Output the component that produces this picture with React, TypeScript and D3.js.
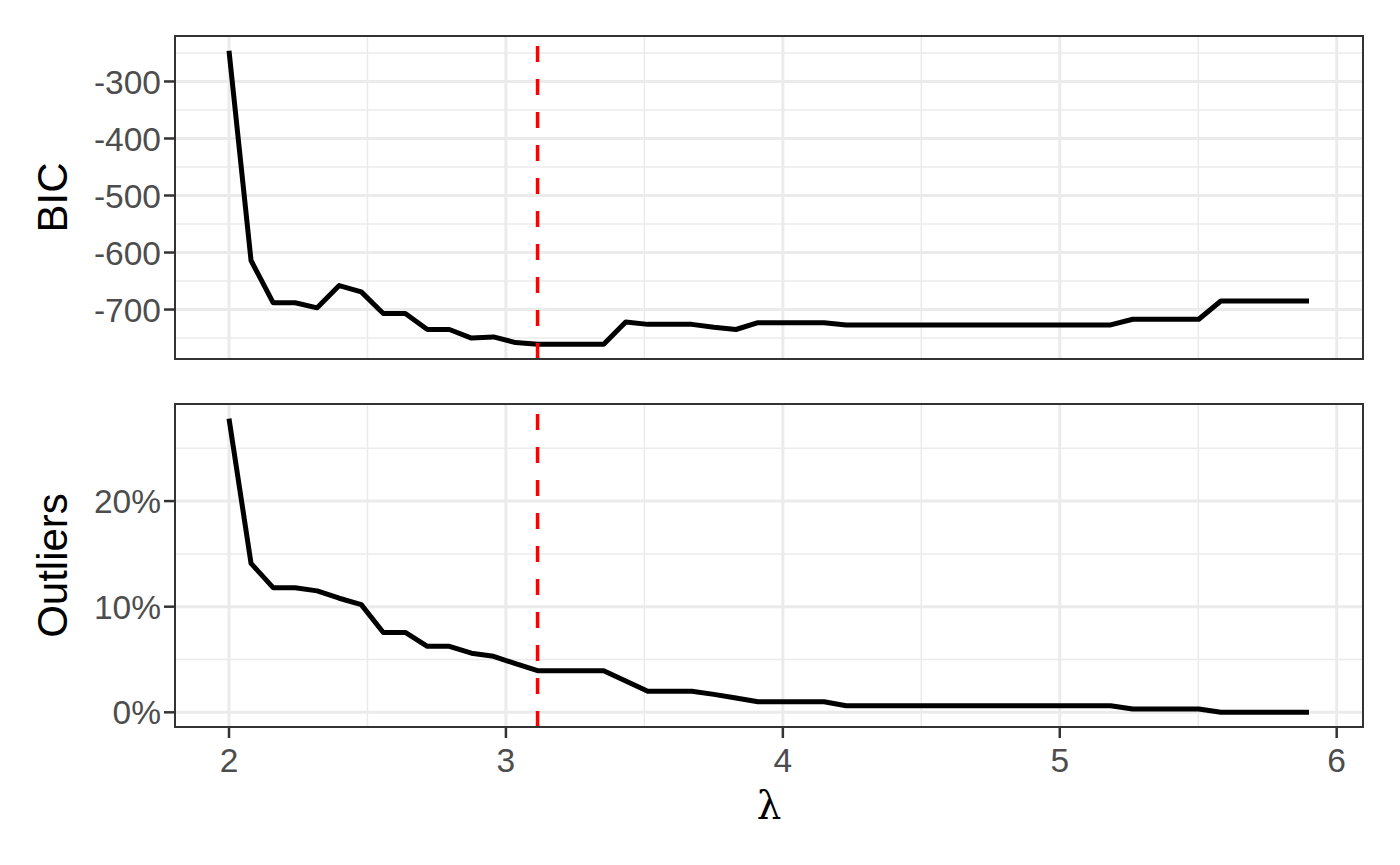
import React from "react";
import * as d3 from "d3";

const lambda = [2.0, 2.0796, 2.1592, 2.2388, 2.3184, 2.398, 2.4776, 2.5571, 2.6367, 2.7163, 2.7959, 2.8755, 2.9551, 3.0347, 3.1143, 3.1939, 3.2735, 3.3531, 3.4327, 3.5122, 3.5918, 3.6714, 3.751, 3.8306, 3.9102, 3.9898, 4.0694, 4.149, 4.2286, 4.3082, 4.3878, 4.4673, 4.5469, 4.6265, 4.7061, 4.7857, 4.8653, 4.9449, 5.0245, 5.1041, 5.1837, 5.2633, 5.3429, 5.4224, 5.502, 5.5816, 5.6612, 5.7408, 5.8204, 5.9];

const bic = [-246, -614, -688, -688, -697, -658, -669, -707, -707, -735, -735, -750, -748, -758, -761, -761, -761, -761, -722, -726, -726, -726, -731, -735, -723, -723, -723, -723, -727, -727, -727, -727, -727, -727, -727, -727, -727, -727, -727, -727, -727, -717, -717, -717, -717, -685, -685, -685, -685, -685];

const outliers = [27.8, 14.1, 11.8, 11.8, 11.5, 10.8, 10.2, 7.56, 7.56, 6.25, 6.25, 5.6, 5.3, 4.6, 3.94, 3.94, 3.94, 3.94, 2.97, 2.0, 2.0, 2.0, 1.7, 1.35, 1.0, 1.0, 1.0, 1.0, 0.63, 0.63, 0.63, 0.63, 0.63, 0.63, 0.63, 0.63, 0.63, 0.63, 0.63, 0.63, 0.63, 0.31, 0.31, 0.31, 0.31, 0, 0, 0, 0, 0];

const selectedLambda = 3.1143;
const xTicks = [2, 3, 4, 5, 6];
const xMinor = [2.5, 3.5, 4.5, 5.5];
const bicTicks = [-300, -400, -500, -600, -700];
const bicMinor = [-250, -350, -450, -550, -650, -750];
const outTicks = [0, 10, 20];
const outMinor = [5, 15, 25];

const FONT = "'Liberation Sans', Arial, Helvetica, sans-serif";

function expand(ext: [number, number]): [number, number] {
  const r = ext[1] - ext[0];
  return [ext[0] - 0.05 * r, ext[1] + 0.05 * r];
}

const L = 175, R = 1363;

const x = d3.scaleLinear().domain(expand([lambda[0], lambda[lambda.length - 1]])).range([L, R]);

type PanelProps = {
  top: number;
  bottom: number;
  values: number[];
  ticks: number[];
  minor: number[];
  fmt: (v: number) => string;
  title: string;
  showX: boolean;
};

function Panel({ top, bottom, values, ticks, minor, fmt, title, showX }: PanelProps) {
  const y = d3.scaleLinear().domain(expand(d3.extent(values) as [number, number])).range([bottom, top]);
  const line = d3.line<number>().x((_, i) => x(lambda[i])).y((d) => y(d));
  const inY = (v: number) => y(v) >= top && y(v) <= bottom;
  const inX = (v: number) => x(v) >= L && x(v) <= R;
  return (
    <g>
      <rect x={L} y={top} width={R - L} height={bottom - top} fill="white" />
      {minor.filter(inY).map((v) => (
        <line key={"hm" + v} x1={L} x2={R} y1={y(v)} y2={y(v)} stroke="#EBEBEB" strokeWidth={1.5} />
      ))}
      {xMinor.filter(inX).map((v) => (
        <line key={"vm" + v} x1={x(v)} x2={x(v)} y1={top} y2={bottom} stroke="#EBEBEB" strokeWidth={1.5} />
      ))}
      {ticks.filter(inY).map((v) => (
        <line key={"hM" + v} x1={L} x2={R} y1={y(v)} y2={y(v)} stroke="#EBEBEB" strokeWidth={3} />
      ))}
      {xTicks.filter(inX).map((v) => (
        <line key={"vM" + v} x1={x(v)} x2={x(v)} y1={top} y2={bottom} stroke="#EBEBEB" strokeWidth={3} />
      ))}
      <path d={line(values) || ""} fill="none" stroke="black" strokeWidth={5} strokeLinejoin="round" />
      <line x1={x(selectedLambda)} x2={x(selectedLambda)} y1={bottom} y2={top} stroke="#FF0000" strokeWidth={3.5} strokeDasharray="16,17" />
      <rect x={L} y={top} width={R - L} height={bottom - top} fill="none" stroke="#333333" strokeWidth={2} />
      {ticks.filter(inY).map((v) => (
        <g key={"t" + v}>
          <line x1={L - 11} x2={L} y1={y(v)} y2={y(v)} stroke="#333333" strokeWidth={2.5} />
          <text x={L - 14} y={y(v)} dy="0.36em" textAnchor="end" fontFamily={FONT} fontSize={33.5} fill="#4D4D4D">
            {fmt(v)}
          </text>
        </g>
      ))}
      {showX &&
        xTicks.filter(inX).map((v) => (
          <g key={"xt" + v}>
            <line x1={x(v)} x2={x(v)} y1={bottom} y2={bottom + 11} stroke="#333333" strokeWidth={2.5} />
            <text x={x(v)} y={bottom + 45} textAnchor="middle" fontFamily={FONT} fontSize={33.5} fill="#4D4D4D">
              {v}
            </text>
          </g>
        ))}
      <text
        transform={`translate(67,${(top + bottom) / 2}) rotate(-90)`}
        textAnchor="middle"
        fontFamily={FONT}
        fontSize={42}
        fill="black"
      >
        {title}
      </text>
    </g>
  );
}

export default function App() {
  return (
    <svg width={1400} height={865} style={{ position: "absolute", left: 0, top: 0, background: "white" }}>
      <rect width={1400} height={865} fill="white" />
      <Panel top={36} bottom={359} values={bic} ticks={bicTicks} minor={bicMinor} fmt={(v) => String(v)} title="BIC" showX={false} />
      <Panel top={404} bottom={727} values={outliers} ticks={outTicks} minor={outMinor} fmt={(v) => v + "%"} title="Outliers" showX={true} />
      <text x={(L + R) / 2} y={819} textAnchor="middle" fontFamily="'DejaVu Serif', 'Liberation Serif', serif" fontSize={39} fill="black">
        λ
      </text>
    </svg>
  );
}
